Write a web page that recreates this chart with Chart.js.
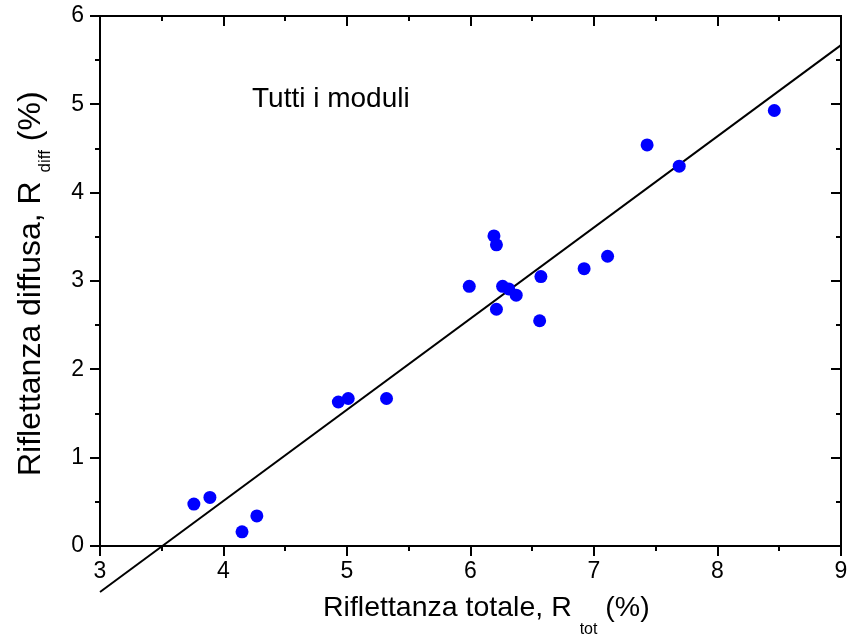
<!DOCTYPE html>
<html>
<head>
<meta charset="utf-8">
<script src="https://cdn.jsdelivr.net/npm/chart.js@4/dist/chart.umd.min.js"></script>
<style>
html,body{margin:0;padding:0;background:#fff;}
#wrap{width:848px;height:636px;}
</style>
</head>
<body>
<div id="wrap"><canvas id="c" width="848" height="636"></canvas></div>
<script>
const rTot = [3.76, 3.89, 4.15, 4.27, 4.93, 5.01, 5.32, 5.99, 6.19, 6.21, 6.26, 6.31, 6.37, 6.21, 6.57, 6.56, 6.92, 7.11, 7.43, 7.69, 8.46];
const rDiff = [0.475, 0.55, 0.16, 0.34, 1.63, 1.67, 1.67, 2.94, 3.51, 3.41, 2.94, 2.91, 2.84, 2.68, 3.05, 2.55, 3.14, 3.28, 4.54, 4.30, 4.93];
const fitX = [3, 9];
const fitY = [-0.52, 5.67];
const xTicks = [3, 4, 5, 6, 7, 8, 9];
const yTicks = [0, 1, 2, 3, 4, 5, 6];
const plotTitle = 'Tutti i moduli';
const xTitle = ['Riflettanza totale, R', 'tot', '(%)'];
const yTitle = ['Riflettanza diffusa, R', 'diff', '(%)'];

const FONT = "'Liberation Sans', Arial, Helvetica, sans-serif";

const framePlugin = {
  id: 'frame',
  afterDraw(chart) {
    const ctx = chart.ctx;
    const a = chart.chartArea;
    const xs = chart.scales.x, ys = chart.scales.y;
    ctx.save();
    ctx.strokeStyle = '#000';
    ctx.lineWidth = 2;
    ctx.lineCap = 'butt';
    ctx.strokeRect(a.left, a.top, a.right - a.left, a.bottom - a.top);
    ctx.beginPath();
    for (let v = xs.min; v <= xs.max + 1e-9; v += 0.5) {
      const p = Math.round(xs.getPixelForValue(v));
      const major = Math.abs(v - Math.round(v)) < 1e-9;
      const L = major ? 10 : 5;
      ctx.moveTo(p, a.bottom); ctx.lineTo(p, a.bottom + L);
      ctx.moveTo(p, a.top); ctx.lineTo(p, a.top + L);
    }
    for (let v = ys.min; v <= ys.max + 1e-9; v += 0.5) {
      const p = Math.round(ys.getPixelForValue(v));
      const major = Math.abs(v - Math.round(v)) < 1e-9;
      const L = major ? 10 : 5;
      ctx.moveTo(a.left, p); ctx.lineTo(a.left - L, p);
      ctx.moveTo(a.right, p); ctx.lineTo(a.right - L, p);
    }
    ctx.stroke();

    ctx.fillStyle = '#000';
    ctx.font = '28px ' + FONT;
    ctx.textBaseline = 'alphabetic';
    ctx.textAlign = 'left';
    ctx.fillText(plotTitle, a.left + 152, 107);

    // x title
    let x = a.left + 223;
    const by = 616;
    ctx.font = '28.5px ' + FONT;
    ctx.fillText(xTitle[0] + ' ', x, by);
    x += ctx.measureText(xTitle[0] + ' ').width;
    ctx.font = '16px ' + FONT;
    ctx.fillText(xTitle[1], x, by + 18);
    x += ctx.measureText(xTitle[1]).width;
    ctx.font = '28.5px ' + FONT;
    ctx.fillText(' ' + xTitle[2], x, by);

    // y title
    ctx.translate(40, 476);
    ctx.rotate(-Math.PI / 2);
    let t = 0;
    ctx.font = '32px ' + FONT;
    ctx.fillText(yTitle[0] + ' ', t, 0);
    t += ctx.measureText(yTitle[0] + ' ').width;
    ctx.font = '17px ' + FONT;
    ctx.fillText(yTitle[1], t, 10);
    t += ctx.measureText(yTitle[1]).width;
    ctx.font = '32px ' + FONT;
    ctx.fillText(' ' + yTitle[2], t, 0);
    ctx.restore();
  }
};

new Chart(document.getElementById('c'), {
  type: 'scatter',
  data: {
    datasets: [
      {
        type: 'line',
        data: fitX.map((v, i) => ({x: v, y: fitY[i]})),
        borderColor: '#000',
        borderWidth: 2,
        pointRadius: 0,
        fill: false,
        clip: false,
        order: 2
      },
      {
        data: rTot.map((v, i) => ({x: v, y: rDiff[i]})),
        backgroundColor: '#0000ff',
        borderWidth: 0,
        pointRadius: 6.5,
        order: 1
      }
    ]
  },
  options: {
    responsive: false,
    animation: false,
    layout: {padding: {top: 16, right: 7, left: 0, bottom: 0}},
    plugins: {legend: {display: false}, tooltip: {enabled: false}, title: {display: false}},
    scales: {
      x: {
        type: 'linear', min: 3, max: 9,
        afterFit(s) { s.height = 90; s.paddingLeft = 0; s.paddingRight = 0; },
        afterBuildTicks(s) { s.ticks = xTicks.map(v => ({value: v})); },
        border: {display: false},
        grid: {display: true, drawOnChartArea: false, drawTicks: true, tickLength: 10, color: 'rgba(0,0,0,0)'},
        ticks: {color: '#000', font: {family: FONT, size: 23}, padding: 2, maxRotation: 0}
      },
      y: {
        type: 'linear', min: 0, max: 6,
        afterFit(s) { s.width = 100; s.paddingTop = 0; s.paddingBottom = 0; },
        afterBuildTicks(s) { s.ticks = yTicks.map(v => ({value: v})); },
        border: {display: false},
        grid: {display: true, drawOnChartArea: false, drawTicks: true, tickLength: 10, color: 'rgba(0,0,0,0)'},
        ticks: {color: '#000', font: {family: FONT, size: 23}, padding: 6}
      }
    }
  },
  plugins: [framePlugin]
});
</script>
</body>
</html>
